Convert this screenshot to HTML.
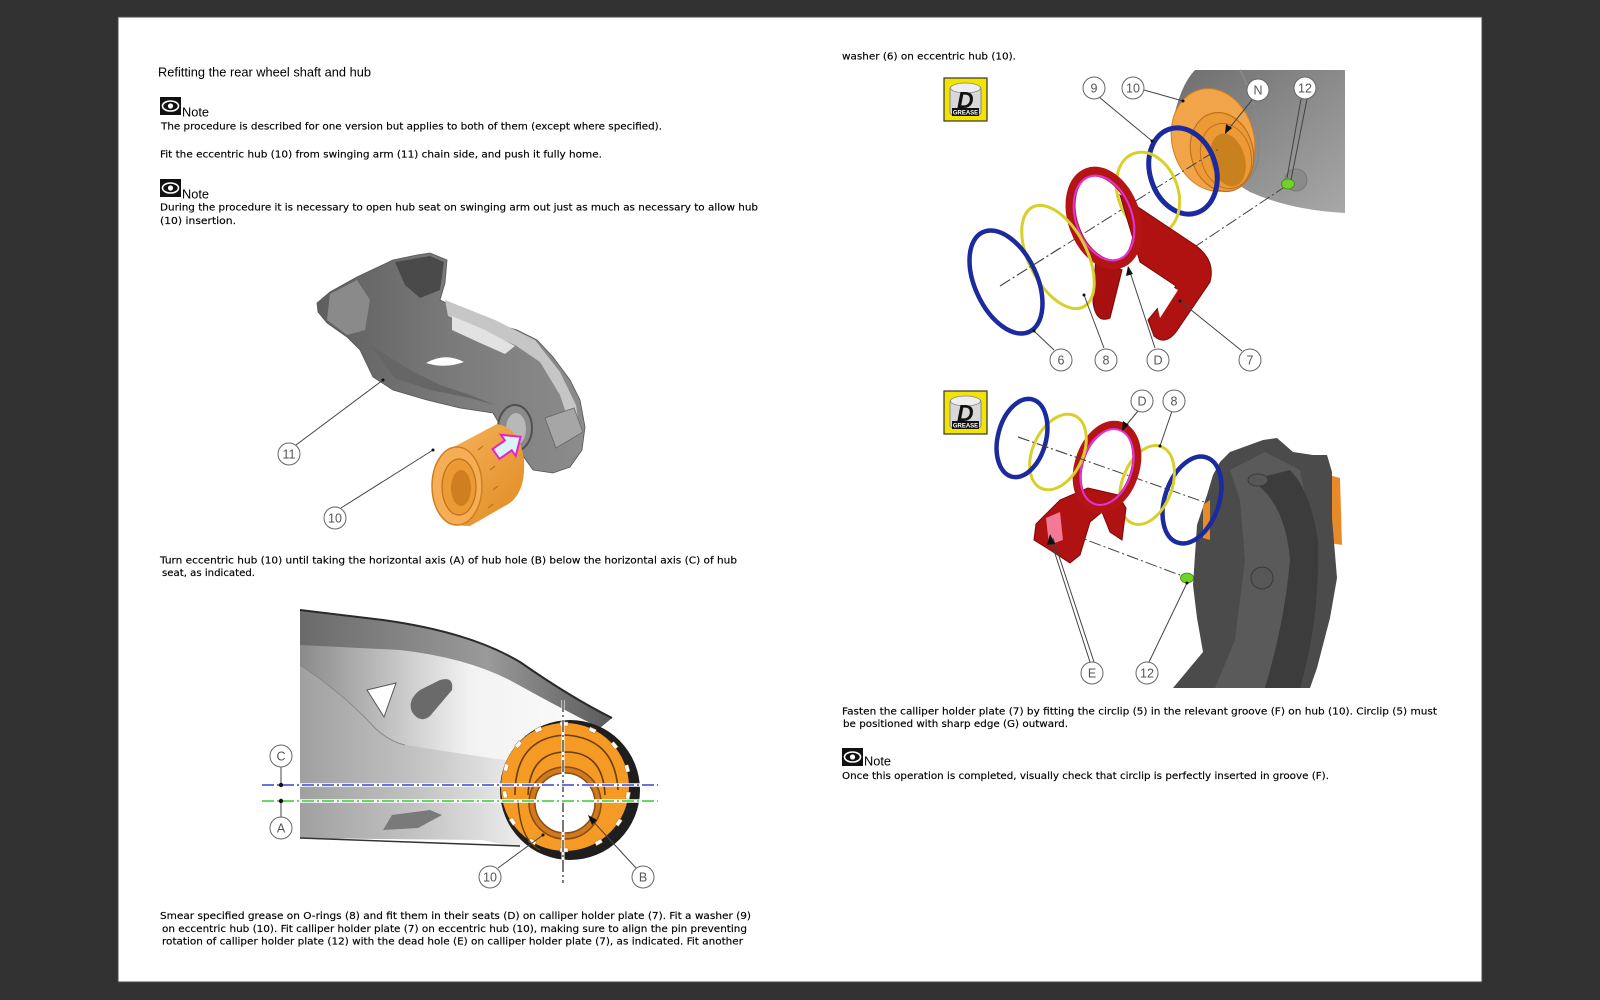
<!DOCTYPE html>
<html><head><meta charset="utf-8">
<style>
html,body{margin:0;padding:0;background:#323232;overflow:hidden;}
svg{display:block}
.t{font-family:"DejaVu Sans","Liberation Sans",sans-serif;font-size:9.8px;fill:#000;stroke:#000;stroke-width:0.15;}
.h{font-family:"Liberation Sans",Arial,sans-serif;font-size:13px;fill:#000;}
.lb{font-family:"Liberation Sans",Arial,sans-serif;font-size:12.5px;fill:#555;text-anchor:middle;}
.gr{font-family:"Liberation Sans",Arial,sans-serif;font-weight:bold;}
</style></head><body>
<svg width="1600" height="1000" viewBox="0 0 1600 1000" xmlns="http://www.w3.org/2000/svg">
<defs>
  <linearGradient id="armg1" x1="0" y1="0" x2="1" y2="0">
    <stop offset="0" stop-color="#5e5e5e"/><stop offset="0.5" stop-color="#7a7a7a"/><stop offset="1" stop-color="#8c8c8c"/>
  </linearGradient>
  <linearGradient id="armg2" x1="0" y1="0" x2="1" y2="0">
    <stop offset="0" stop-color="#8a8a8a"/><stop offset="0.3" stop-color="#c9c9c9"/><stop offset="0.5" stop-color="#f2f2f2"/><stop offset="1" stop-color="#ffffff"/>
  </linearGradient>
  <linearGradient id="low2" x1="0" y1="0" x2="1" y2="0">
    <stop offset="0" stop-color="#a0a0a0"/><stop offset="0.55" stop-color="#c4c4c4"/><stop offset="1" stop-color="#ececec"/>
  </linearGradient>
  <linearGradient id="band2" x1="0" y1="0" x2="1" y2="0">
    <stop offset="0" stop-color="#6a6a6a"/><stop offset="0.6" stop-color="#9a9a9a"/><stop offset="1" stop-color="#5a5a5a"/>
  </linearGradient>
  <linearGradient id="armg3" x1="0" y1="0" x2="1" y2="1">
    <stop offset="0" stop-color="#6e6e6e"/><stop offset="1" stop-color="#a8a8a8"/>
  </linearGradient>
  <linearGradient id="org" x1="0" y1="0" x2="1" y2="1">
    <stop offset="0" stop-color="#f7b560"/><stop offset="1" stop-color="#e08a20"/>
  </linearGradient>
</defs>
<rect width="1600" height="1000" fill="#323232"/>
<rect x="118" y="17" width="1364" height="965" fill="#fff" stroke="#4a4a4a" stroke-width="1"/>

<!-- LEFT COLUMN TEXT -->
<text class="h" x="158" y="76.5" textLength="213" lengthAdjust="spacingAndGlyphs">Refitting the rear wheel shaft and hub</text>

<g>
  <rect x="160" y="97" width="21" height="18" fill="#111"/>
  <ellipse cx="170.5" cy="106" rx="8" ry="5" fill="none" stroke="#fff" stroke-width="1.6"/>
  <circle cx="170.5" cy="106" r="2.6" fill="#fff"/>
  <text class="h" x="182" y="116.5" textLength="27" lengthAdjust="spacingAndGlyphs">Note</text>
</g>
<text class="t" x="161" y="129.5" textLength="501" lengthAdjust="spacingAndGlyphs">The procedure is described for one version but applies to both of them (except where specified).</text>
<text class="t" x="160" y="157.5" textLength="442" lengthAdjust="spacingAndGlyphs">Fit the eccentric hub (10) from swinging arm (11) chain side, and push it fully home.</text>
<g>
  <rect x="160" y="179" width="21" height="18" fill="#111"/>
  <ellipse cx="170.5" cy="188" rx="8" ry="5" fill="none" stroke="#fff" stroke-width="1.6"/>
  <circle cx="170.5" cy="188" r="2.6" fill="#fff"/>
  <text class="h" x="182" y="198.5" textLength="27" lengthAdjust="spacingAndGlyphs">Note</text>
</g>
<text class="t" x="160" y="210.5" textLength="598" lengthAdjust="spacingAndGlyphs">During the procedure it is necessary to open hub seat on swinging arm out just as much as necessary to allow hub</text>
<text class="t" x="160" y="224" textLength="76" lengthAdjust="spacingAndGlyphs">(10) insertion.</text>

<text class="t" x="160" y="563.5" textLength="577" lengthAdjust="spacingAndGlyphs">Turn eccentric hub (10) until taking the horizontal axis (A) of hub hole (B) below the horizontal axis (C) of hub</text>
<text class="t" x="162" y="576" textLength="93" lengthAdjust="spacingAndGlyphs">seat, as indicated.</text>

<text class="t" x="160" y="919" textLength="591" lengthAdjust="spacingAndGlyphs">Smear specified grease on O-rings (8) and fit them in their seats (D) on calliper holder plate (7). Fit a washer (9)</text>
<text class="t" x="162" y="932" textLength="585" lengthAdjust="spacingAndGlyphs">on eccentric hub (10). Fit calliper holder plate (7) on eccentric hub (10), making sure to align the pin preventing</text>
<text class="t" x="162" y="944.5" textLength="581" lengthAdjust="spacingAndGlyphs">rotation of calliper holder plate (12) with the dead hole (E) on calliper holder plate (7), as indicated. Fit another</text>

<!-- RIGHT COLUMN TEXT -->
<text class="t" x="842" y="59.5" textLength="174" lengthAdjust="spacingAndGlyphs">washer (6) on eccentric hub (10).</text>
<text class="t" x="842" y="714.5" textLength="595" lengthAdjust="spacingAndGlyphs">Fasten the calliper holder plate (7) by fitting the circlip (5) in the relevant groove (F) on hub (10). Circlip (5) must</text>
<text class="t" x="843" y="727" textLength="225" lengthAdjust="spacingAndGlyphs">be positioned with sharp edge (G) outward.</text>
<g>
  <rect x="842" y="748" width="21" height="18" fill="#111"/>
  <ellipse cx="852.5" cy="757" rx="8" ry="5" fill="none" stroke="#fff" stroke-width="1.6"/>
  <circle cx="852.5" cy="757" r="2.6" fill="#fff"/>
  <text class="h" x="864" y="765.5" textLength="27" lengthAdjust="spacingAndGlyphs">Note</text>
</g>
<text class="t" x="842" y="779" textLength="487" lengthAdjust="spacingAndGlyphs">Once this operation is completed, visually check that circlip is perfectly inserted in groove (F).</text>

<!-- IMAGE 1: swinging arm + hub -->
<g>
  <path d="M317,303 L318,312 L327,323 L347,337 L360,350 L373,377 L393,390 L427,400 L460,408 L493,413 L500,425 L513,442 L533,470 L553,473 L570,467 L582,450 L585,427 L580,400 L570,380 L553,357 L537,340 L517,330 L493,323 L467,313 L440,300 L445,283 L447,260 L430,253 L417,255 L393,260 L357,277 L330,292 Z" fill="url(#armg1)" stroke="#555" stroke-width="0.8"/>
  <path d="M395,262 L430,256 L444,262 L440,290 L420,298 L405,285 Z" fill="#4a4a4a"/>
  <path d="M330,294 L357,280 L370,300 L365,330 L347,335 L327,320 Z" fill="#8a8a8a"/>
  <path d="M445,300 L495,320 L535,340 L560,372 L576,405 L580,430 L570,425 L560,395 L540,362 L515,345 L480,330 L448,316 Z" fill="#c6c6c6"/>
  <path d="M452,316 L485,330 L515,346 L505,354 L478,342 L452,330 Z" fill="#e2e2e2"/>
  <path d="M370,345 L410,370 L440,385 L470,395 L495,405 L470,398 L430,390 L395,378 Z" fill="#666"/>
  <path d="M426,363 Q445,352 464,362 Q445,369 426,363 Z" fill="#fff"/>
  <ellipse cx="515" cy="428" rx="17" ry="23" fill="#8a8a8a" stroke="#505050" stroke-width="2"/>
  <ellipse cx="516" cy="429" rx="10" ry="16" fill="#b8b8b8"/>
  <path d="M545,418 L574,408 L583,432 L556,448 Z" fill="#a6a6a6" stroke="#666" stroke-width="0.8"/>
  <!-- orange hub -->
  <path d="M448,450 L497,424 Q520,428 524,460 Q526,490 510,503 L470,526 Q445,527 440,500 Z" fill="url(#org)"/>
  <ellipse cx="457" cy="486" rx="25" ry="39" fill="#f5ae55" stroke="#d07f1c" stroke-width="1.5"/>
  <ellipse cx="459" cy="487" rx="17" ry="28" fill="#eb9a35" stroke="#c0701a" stroke-width="1.2"/>
  <ellipse cx="461" cy="488" rx="10" ry="18" fill="#d07f20"/>
  <path d="M478,450 L483,446 M490,470 L495,466 M493,490 L498,486 M488,508 L493,504" stroke="#b86a10" stroke-width="1"/>
  <!-- pink arrow -->
  <g transform="translate(496,454) rotate(-35)">
    <polygon points="0,-6 15,-6 15,-13 30,0 15,13 15,6 0,6" fill="#d9f3f7" stroke="#e024cf" stroke-width="2"/>
  </g>
  <line x1="296" y1="445" x2="383" y2="380" stroke="#444" stroke-width="1"/>
  <circle cx="383" cy="380" r="1.5" fill="#111"/>
  <line x1="341" y1="508" x2="433" y2="450" stroke="#444" stroke-width="1"/>
  <circle cx="433" cy="450" r="1.5" fill="#111"/>
  <circle cx="289" cy="454" r="11" fill="#fff" stroke="#666"/><text class="lb" x="289" y="458.5">11</text>
  <circle cx="335" cy="518" r="11" fill="#fff" stroke="#666"/><text class="lb" x="335" y="522.5">10</text>
</g>

<!-- IMAGE 2: hub seat -->
<g>
  <path d="M300,610 L383,620 Q470,632 520,662 Q570,697 600,712 L612,718 Q622,740 632,765 Q645,800 632,830 Q612,858 568,858 Q538,856 522,848 L483,840 L300,838 Z" fill="url(#armg2)"/>
  <path d="M300,610 L383,620 Q470,632 520,662 Q570,697 612,718 L600,728 Q560,708 515,683 Q470,658 400,650 L300,645 Z" fill="url(#band2)"/>
  <path d="M300,610 L383,620 Q470,632 520,662 Q570,697 612,718" fill="none" stroke="#2a2a2a" stroke-width="2"/>
  <path d="M300,665 Q345,695 375,728 Q390,742 405,745 L490,758 L520,762 L520,848 L483,840 L300,838 Z" fill="url(#low2)"/>
  <path d="M300,665 Q345,695 375,728 Q390,742 405,745" fill="none" stroke="#888" stroke-width="1"/>
  <path d="M300,838 L520,846" stroke="#333" stroke-width="1.5"/>
  <polygon points="367,690 396,683 384,717" fill="#fff" stroke="#555" stroke-width="1"/>
  <path d="M412,712 Q407,700 420,690 L440,680 Q454,676 452,690 L430,716 Q420,724 412,712 Z" fill="#6a6a6a"/>
  <path d="M383,830 L392,815 L430,810 L442,815 L418,828 Z" fill="#7a7a7a"/>
  <!-- hub -->
  <circle cx="570" cy="790" r="70" fill="#1e1e1e"/>
  <circle cx="565" cy="787" r="64" fill="#f59a25"/>
  <g fill="#fff" stroke="#c07020" stroke-width="0.5">
    <rect x="560" y="722" width="8" height="4"/>
    <rect x="589" y="728" width="7" height="4" transform="rotate(25 592 730)"/>
    <rect x="611" y="743" width="7" height="4" transform="rotate(50 614 745)"/>
    <rect x="624" y="766" width="7" height="4" transform="rotate(75 627 768)"/>
    <rect x="625" y="793" width="7" height="4" transform="rotate(100 628 795)"/>
    <rect x="616" y="820" width="7" height="4" transform="rotate(125 619 822)"/>
    <rect x="596" y="840" width="7" height="4" transform="rotate(150 599 842)"/>
    <rect x="560" y="848" width="8" height="4"/>
    <rect x="530" y="840" width="7" height="4" transform="rotate(-150 533 842)"/>
    <rect x="510" y="820" width="7" height="4" transform="rotate(-125 513 822)"/>
    <rect x="502" y="793" width="7" height="4" transform="rotate(-100 505 795)"/>
    <rect x="503" y="766" width="7" height="4" transform="rotate(-75 506 768)"/>
    <rect x="515" y="743" width="7" height="4" transform="rotate(-50 518 745)"/>
    <rect x="535" y="728" width="7" height="4" transform="rotate(-25 538 730)"/>
  </g>
  <path d="M515,795 Q515,738 565,735 Q615,738 618,790" fill="none" stroke="#6a3e08" stroke-width="1.6"/>
  <path d="M528,795 Q530,752 566,752 Q603,752 605,795" fill="none" stroke="#6a3e08" stroke-width="1.6"/>
  <path d="M518,800 Q520,840 540,850" fill="none" stroke="#6a3e08" stroke-width="1.4"/>
  <circle cx="565" cy="803" r="36" fill="#d07a20" stroke="#8a4a10" stroke-width="1.5"/>
  <circle cx="565" cy="803" r="30" fill="#fff" stroke="#8a5010" stroke-width="1.5"/>
  <!-- axes -->
  <line x1="563" y1="700" x2="563" y2="883" stroke="#fff" stroke-width="3"/>
  <line x1="563" y1="700" x2="563" y2="883" stroke="#222" stroke-width="1.2" stroke-dasharray="12,3,2,3"/>
  <line x1="262" y1="785" x2="658" y2="785" stroke="#fff" stroke-width="3.5"/>
  <line x1="262" y1="785" x2="658" y2="785" stroke="#3546d8" stroke-width="1.5" stroke-dasharray="12,3,2,3"/>
  <line x1="262" y1="801" x2="658" y2="801" stroke="#fff" stroke-width="3.5"/>
  <line x1="262" y1="801" x2="658" y2="801" stroke="#33cc33" stroke-width="1.5" stroke-dasharray="12,3,2,3"/>
  <line x1="281" y1="767" x2="281" y2="785" stroke="#444"/>
  <circle cx="281" cy="785" r="2.2" fill="#111"/>
  <line x1="281" y1="801" x2="281" y2="817" stroke="#444"/>
  <circle cx="281" cy="801" r="2.2" fill="#111"/>
  <circle cx="281" cy="756" r="11" fill="#fff" stroke="#666"/><text class="lb" x="281" y="760.5">C</text>
  <circle cx="281" cy="828" r="11" fill="#fff" stroke="#666"/><text class="lb" x="281" y="832.5">A</text>
  <line x1="498" y1="868" x2="543" y2="835" stroke="#444"/>
  <circle cx="543" cy="835" r="1.5" fill="#111"/>
  <line x1="636" y1="868" x2="590" y2="818" stroke="#444"/>
  <polygon points="588,815 597,820 592,825" fill="#111"/>
  <circle cx="490" cy="877" r="11" fill="#fff" stroke="#666"/><text class="lb" x="490" y="881.5">10</text>
  <circle cx="643" cy="877" r="11" fill="#fff" stroke="#666"/><text class="lb" x="643" y="881.5">B</text>
</g>

<!-- GREASE ICONS -->
<g>
  <rect x="944" y="78" width="43" height="43" fill="#f2e400" stroke="#333" stroke-width="1.2"/>
  <rect x="950" y="86" width="31" height="29" rx="3" fill="#d8d8d8" stroke="#777" stroke-width="0.8"/>
  <ellipse cx="965.5" cy="88" rx="15" ry="5" fill="#eee" stroke="#888" stroke-width="0.8"/>
  <text class="gr" x="957" y="108" font-size="23" font-style="italic" fill="#111">D</text>
  <rect x="952" y="108" width="27" height="8" fill="#111"/>
  <text class="gr" x="965.5" y="114.5" font-size="6" fill="#fff" text-anchor="middle">GREASE</text>
</g>
<g>
  <rect x="944" y="391" width="43" height="43" fill="#f2e400" stroke="#333" stroke-width="1.2"/>
  <rect x="950" y="399" width="31" height="29" rx="3" fill="#d8d8d8" stroke="#777" stroke-width="0.8"/>
  <ellipse cx="965.5" cy="401" rx="15" ry="5" fill="#eee" stroke="#888" stroke-width="0.8"/>
  <text class="gr" x="957" y="421" font-size="23" font-style="italic" fill="#111">D</text>
  <rect x="952" y="421" width="27" height="8" fill="#111"/>
  <text class="gr" x="965.5" y="427.5" font-size="6" fill="#fff" text-anchor="middle">GREASE</text>
</g>

<!-- IMAGE 3: exploded view -->
<g>
  <path d="M1172,125 Q1180,85 1195,70 L1345,70 L1345,213 Q1290,210 1250,192 Q1230,180 1215,170 Z" fill="url(#armg3)"/>
  <path d="M1240,70 Q1262,110 1258,160 Q1252,185 1235,183" fill="none" stroke="#888" stroke-width="2"/>
  <circle cx="1296" cy="180" r="11" fill="#8a8a8a" stroke="#777"/>
  <ellipse cx="1213" cy="140" rx="41" ry="52" transform="rotate(-15 1213 140)" fill="#f2a548" stroke="#d08020" stroke-width="1"/>
  <ellipse cx="1222" cy="152" rx="31" ry="40" transform="rotate(-15 1222 152)" fill="#ec9a35" stroke="#c07020" stroke-width="1.2"/>
  <ellipse cx="1226" cy="156" rx="25" ry="33" transform="rotate(-15 1226 156)" fill="none" stroke="#c07020" stroke-width="1"/>
  <ellipse cx="1228" cy="160" rx="17" ry="27" transform="rotate(-15 1228 160)" fill="#c9801f"/>
  <line x1="1000" y1="286" x2="1220" y2="148" stroke="#444" stroke-width="1" stroke-dasharray="12,3,2,3"/>
  <line x1="1193" y1="248" x2="1283" y2="188" stroke="#444" stroke-width="1" stroke-dasharray="12,3,2,3"/>
  <ellipse cx="1288" cy="184" rx="6.5" ry="5" fill="#6fd12a" stroke="#3a8a10" stroke-width="0.8"/>
  <ellipse cx="1183" cy="171" rx="33" ry="44" transform="rotate(-18 1183 171)" fill="none" stroke="#1b2a9e" stroke-width="5"/>
  <ellipse cx="1148" cy="193" rx="30" ry="42" transform="rotate(-20 1148 193)" fill="none" stroke="#d8cf2a" stroke-width="3"/>
  <path d="M1120,195 L1195,245 Q1216,260 1210,282 L1176,332 Q1165,346 1154,336 L1148,320 L1176,286 L1140,262 Z" fill="#b01212" stroke="#7a0808" stroke-width="1"/>
  <path d="M1150,275 L1178,290 L1160,318 Z" fill="#fff"/>
  <path d="M1096,255 L1093,302 Q1096,324 1110,318 L1122,270 Z" fill="#a81010" stroke="#7a0808" stroke-width="1"/>
  <ellipse cx="1104" cy="218" rx="31" ry="48" transform="rotate(-20 1104 218)" fill="none" stroke="#b41414" stroke-width="10"/>
  <ellipse cx="1104" cy="218" rx="28" ry="44" transform="rotate(-20 1104 218)" fill="none" stroke="#e033e0" stroke-width="2"/>
  <ellipse cx="1058" cy="257" rx="29" ry="56" transform="rotate(-27 1058 257)" fill="none" stroke="#d8cf2a" stroke-width="3"/>
  <ellipse cx="1006" cy="282" rx="31" ry="55" transform="rotate(-25 1006 282)" fill="none" stroke="#1b2a9e" stroke-width="4.5"/>
  <line x1="1000" y1="286" x2="1060" y2="248" stroke="#444" stroke-width="1" stroke-dasharray="12,3,2,3"/>
  <g stroke="#444" stroke-width="1" fill="none">
    <line x1="1099" y1="97" x2="1152" y2="141"/>
    <line x1="1144" y1="90" x2="1183" y2="101"/>
    <line x1="1252" y1="100" x2="1227" y2="131"/>
    <line x1="1301" y1="99" x2="1287" y2="178"/>
    <line x1="1307" y1="99" x2="1291" y2="180"/>
    <line x1="1054" y1="350" x2="1034" y2="331"/>
    <line x1="1104" y1="348" x2="1084" y2="295"/>
    <line x1="1155" y1="348" x2="1129" y2="269"/>
    <line x1="1242" y1="351" x2="1180" y2="301"/>
  </g>
  <polygon points="1225,134 1226,124 1232,128" fill="#111"/>
  <polygon points="1128,266 1126,276 1133,274" fill="#111"/>
  <g fill="#111">
    <circle cx="1152" cy="141" r="1.5"/><circle cx="1183" cy="101" r="1.5"/><circle cx="1034" cy="331" r="1.5"/>
    <circle cx="1084" cy="295" r="1.5"/><circle cx="1180" cy="301" r="1.5"/>
  </g>
  <circle cx="1094" cy="88" r="11" fill="#fff" stroke="#666"/><text class="lb" x="1094" y="92.5">9</text>
  <circle cx="1133" cy="88" r="11" fill="#fff" stroke="#666"/><text class="lb" x="1133" y="92.5">10</text>
  <circle cx="1258" cy="90" r="11" fill="#fff" stroke="#666"/><text class="lb" x="1258" y="94.5">N</text>
  <circle cx="1305" cy="88" r="11" fill="#fff" stroke="#666"/><text class="lb" x="1305" y="92.5">12</text>
  <circle cx="1061" cy="360" r="11" fill="#fff" stroke="#666"/><text class="lb" x="1061" y="364.5">6</text>
  <circle cx="1106" cy="360" r="11" fill="#fff" stroke="#666"/><text class="lb" x="1106" y="364.5">8</text>
  <circle cx="1158" cy="360" r="11" fill="#fff" stroke="#666"/><text class="lb" x="1158" y="364.5">D</text>
  <circle cx="1250" cy="360" r="11" fill="#fff" stroke="#666"/><text class="lb" x="1250" y="364.5">7</text>
</g>

<!-- IMAGE 4 -->
<g>
  <path d="M1310,470 L1340,478 L1342,545 L1312,540 Z" fill="#e88a2a"/>
  <path d="M1213,475 L1220,462 L1230,452 L1263,440 L1277,438 L1293,452 L1313,455 L1327,455 L1332,472 L1332,518 L1337,578 L1330,618 L1317,668 L1310,688 L1173,688 L1203,652 L1197,618 L1193,585 L1197,525 L1207,495 Z" fill="#4b4b4b"/>
  <path d="M1230,470 L1265,452 L1300,470 L1310,520 L1300,600 L1280,688 L1215,688 L1235,640 L1245,560 L1240,500 Z" fill="#5a5a5a"/>
  <path d="M1250,480 Q1285,500 1290,560 Q1285,620 1265,688 L1300,688 Q1320,620 1318,540 Q1310,490 1290,470 Z" fill="#3c3c3c"/>
  <ellipse cx="1258" cy="480" rx="10" ry="6" fill="#575757" stroke="#3a3a3a"/>
  <ellipse cx="1262" cy="578" rx="11" ry="11" fill="#575757" stroke="#3a3a3a"/>
  <path d="M1203,505 L1210,500 L1210,540 L1203,538 Z" fill="#e88a2a"/>
  <line x1="1018" y1="437" x2="1207" y2="503" stroke="#444" stroke-width="1" stroke-dasharray="12,3,2,3"/>
  <line x1="1052" y1="527" x2="1185" y2="577" stroke="#444" stroke-width="1" stroke-dasharray="12,3,2,3"/>
  <ellipse cx="1187" cy="578" rx="6.5" ry="5" fill="#6fd12a" stroke="#3a8a10" stroke-width="0.8"/>
  <ellipse cx="1192" cy="500" rx="27" ry="45" transform="rotate(19 1192 500)" fill="none" stroke="#1b2a9e" stroke-width="4.5"/>
  <ellipse cx="1147" cy="485" rx="25" ry="41" transform="rotate(20 1147 485)" fill="none" stroke="#d8cf2a" stroke-width="3"/>
  <path d="M1088,488 L1060,500 L1036,524 L1034,540 L1050,550 L1070,563 L1080,555 L1090,522 L1102,512 L1110,532 L1122,540 L1126,508 L1118,495 Z" fill="#b01212" stroke="#7a0808" stroke-width="1"/>
  <path d="M1046,518 L1060,512 L1063,540 L1049,545 Z" fill="#f27a96"/>
  <ellipse cx="1107" cy="467" rx="28" ry="43" transform="rotate(18 1107 467)" fill="none" stroke="#b41414" stroke-width="9"/>
  <ellipse cx="1107" cy="467" rx="25" ry="39" transform="rotate(18 1107 467)" fill="none" stroke="#e033e0" stroke-width="2"/>
  <ellipse cx="1058" cy="452" rx="25" ry="40" transform="rotate(25 1058 452)" fill="none" stroke="#d8cf2a" stroke-width="3"/>
  <ellipse cx="1022" cy="438" rx="24" ry="40" transform="rotate(15 1022 438)" fill="none" stroke="#1b2a9e" stroke-width="4.5"/>
  <line x1="1018" y1="437" x2="1090" y2="462" stroke="#444" stroke-width="1" stroke-dasharray="12,3,2,3"/>
  <g stroke="#444" stroke-width="1">
    <line x1="1138" y1="411" x2="1124" y2="428"/>
    <line x1="1172" y1="411" x2="1160" y2="446"/>
    <line x1="1090" y1="662" x2="1050" y2="538"/>
    <line x1="1094" y1="662" x2="1053" y2="538"/>
    <line x1="1149" y1="662" x2="1187" y2="583"/>
  </g>
  <polygon points="1122,431 1123,421 1129,425" fill="#111"/>
  <polygon points="1050,534 1047,545 1055,544" fill="#111"/>
  <circle cx="1160" cy="446" r="1.5" fill="#111"/>
  <circle cx="1187" cy="583" r="1.5" fill="#111"/>
  <circle cx="1142" cy="401" r="11" fill="#fff" stroke="#666"/><text class="lb" x="1142" y="405.5">D</text>
  <circle cx="1174" cy="401" r="11" fill="#fff" stroke="#666"/><text class="lb" x="1174" y="405.5">8</text>
  <circle cx="1092" cy="673" r="11" fill="#fff" stroke="#666"/><text class="lb" x="1092" y="677.5">E</text>
  <circle cx="1147" cy="673" r="11" fill="#fff" stroke="#666"/><text class="lb" x="1147" y="677.5">12</text>
</g>
</svg>
</body></html>
